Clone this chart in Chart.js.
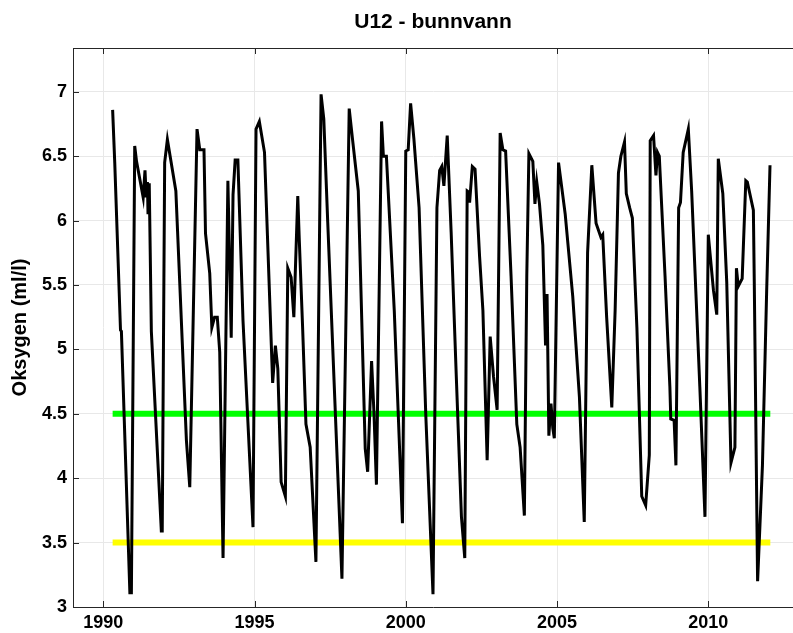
<!DOCTYPE html>
<html>
<head>
<meta charset="utf-8">
<script src="https://cdn.jsdelivr.net/npm/chart.js@4"></script>
<style>
  html, body { margin: 0; padding: 0; background: #fff; }
  #wrap { width: 793px; height: 633px; }
</style>
</head>
<body>
<div id="wrap"><canvas id="oxyChart" width="793" height="633"></canvas></div>
<script>
// measured series (year, ml/l)
const years = [
  1990.31, 1990.38, 1990.57, 1990.60, 1990.88, 1990.93, 1991.04, 1991.10, 1991.32, 1991.38,
  1991.42, 1991.46, 1991.48, 1991.52, 1991.59, 1991.92, 1991.95, 1992.03, 1992.12, 1992.40,
  1992.75, 1992.86, 1993.10, 1993.19, 1993.33, 1993.38, 1993.52, 1993.59, 1993.68, 1993.77,
  1993.85, 1993.96, 1994.12, 1994.23, 1994.29, 1994.36, 1994.45, 1994.62, 1994.95, 1995.05,
  1995.16, 1995.33, 1995.60, 1995.69, 1995.77, 1995.88, 1996.02, 1996.10, 1996.21, 1996.30,
  1996.43, 1996.48, 1996.59, 1996.70, 1996.84, 1997.03, 1997.20, 1997.29, 1997.42, 1997.89,
  1998.13, 1998.24, 1998.43, 1998.66, 1998.74, 1998.87, 1998.95, 1999.03, 1999.20, 1999.26,
  1999.36, 1999.62, 1999.89, 2000.00, 2000.08, 2000.16, 2000.27, 2000.44, 2000.66, 2000.90,
  2001.03, 2001.12, 2001.19, 2001.26, 2001.37, 2001.50, 2001.67, 2001.84, 2001.95, 2002.03,
  2002.09, 2002.11, 2002.20, 2002.29, 2002.44, 2002.55, 2002.69, 2002.79, 2002.90, 2003.02,
  2003.12, 2003.21, 2003.30, 2003.48, 2003.67, 2003.78, 2003.92, 2004.00, 2004.07, 2004.20,
  2004.27, 2004.33, 2004.42, 2004.53, 2004.62, 2004.67, 2004.73, 2004.80, 2004.86, 2004.91,
  2005.05, 2005.27, 2005.52, 2005.74, 2005.90, 2006.01, 2006.15, 2006.29, 2006.45, 2006.51,
  2006.64, 2006.81, 2006.92, 2007.03, 2007.11, 2007.23, 2007.29, 2007.40, 2007.49, 2007.64,
  2007.80, 2007.93, 2008.05, 2008.08, 2008.19, 2008.27, 2008.32, 2008.38, 2008.57, 2008.73,
  2008.76, 2008.87, 2008.93, 2009.02, 2009.08, 2009.17, 2009.34, 2009.45, 2009.72, 2009.89,
  2010.00, 2010.17, 2010.28, 2010.33, 2010.48, 2010.61, 2010.75, 2010.88, 2010.93, 2010.99,
  2011.12, 2011.24, 2011.29, 2011.49, 2011.52, 2011.63, 2011.79, 2011.93, 2012.04
];
const oxygen = [
  6.86, 6.45, 5.15, 5.14, 3.11, 3.11, 6.58, 6.46, 6.18, 6.39,
  6.18, 6.30, 6.05, 6.29, 5.14, 3.59, 3.59, 6.45, 6.63, 6.23,
  4.29, 3.93, 6.71, 6.55, 6.55, 5.90, 5.59, 5.17, 5.25, 5.25,
  4.98, 3.38, 6.31, 5.09, 6.20, 6.47, 6.47, 5.22, 3.62, 6.71,
  6.77, 6.53, 4.74, 5.03, 4.85, 3.97, 3.86, 5.63, 5.56, 5.25,
  6.19, 5.85, 5.17, 4.42, 4.24, 3.35, 6.98, 6.79, 5.99, 3.22,
  6.87, 6.63, 6.23, 4.23, 4.05, 4.91, 4.50, 3.95, 6.77, 6.50,
  6.50, 5.30, 3.65, 6.54, 6.55, 6.91, 6.63, 6.10, 4.50, 3.10,
  6.10, 6.39, 6.42, 6.27, 6.66, 5.91, 4.79, 3.70, 3.38, 6.23,
  6.22, 6.14, 6.42, 6.40, 5.72, 5.30, 4.14, 5.10, 4.79, 4.53,
  6.68, 6.55, 6.54, 5.57, 4.42, 4.24, 3.71, 5.57, 6.52, 6.46,
  6.13, 6.30, 6.13, 5.81, 5.03, 5.43, 4.33, 4.58, 4.39, 4.31,
  6.45, 6.05, 5.41, 4.63, 3.66, 5.75, 6.43, 5.98, 5.87, 5.89,
  5.25, 4.55, 5.30, 6.37, 6.50, 6.61, 6.21, 6.10, 6.02, 5.17,
  3.86, 3.79, 4.18, 6.62, 6.66, 6.35, 6.53, 6.50, 5.57, 4.71,
  4.46, 4.45, 4.10, 6.10, 6.14, 6.53, 6.71, 6.23, 4.71, 3.70,
  5.89, 5.46, 5.27, 6.48, 6.21, 5.52, 4.12, 4.24, 5.63, 5.49,
  5.55, 6.31, 6.30, 6.08, 5.52, 3.20, 4.10, 5.46, 6.43
];

// threshold lines
const limitYears = [1990.31, 2012.05];
const greenLimit = 4.5;
const yellowLimit = 3.5;

const xTicks = [1990, 1995, 2000, 2005, 2010];
const yTicks = [3, 3.5, 4, 4.5, 5, 5.5, 6, 6.5, 7];

const labelFont = { family: "'Liberation Sans', Arial, sans-serif", size: 18, weight: "bold" };

// title centred over plot area, plus top frame and inward ticks (matlab look)
const frameAndTitle = {
  id: "frameAndTitle",
  afterDraw(chart) {
    const ctx = chart.ctx;
    const a = chart.chartArea;
    const xs = chart.scales.x, ys = chart.scales.y;
    ctx.save();
    ctx.strokeStyle = "#262626";
    ctx.lineWidth = 1;
    ctx.beginPath();
    ctx.moveTo(a.left, a.top + 0.5);
    ctx.lineTo(a.right, a.top + 0.5);
    xTicks.forEach(function (v) {
      const px = Math.round(xs.getPixelForValue(v)) + 0.5;
      ctx.moveTo(px, a.bottom); ctx.lineTo(px, a.bottom - 6);
      ctx.moveTo(px, a.top); ctx.lineTo(px, a.top + 6);
    });
    yTicks.forEach(function (v) {
      const py = Math.round(ys.getPixelForValue(v)) + 0.5;
      ctx.moveTo(a.left, py); ctx.lineTo(a.left + 6, py);
    });
    ctx.stroke();
    ctx.fillStyle = "#000";
    ctx.font = "bold 21px 'Liberation Sans', Arial, sans-serif";
    ctx.textAlign = "center";
    ctx.textBaseline = "middle";
    ctx.fillText("U12 - bunnvann", (a.left + a.right) / 2, 22);
    ctx.restore();
  }
};

const ctx = document.getElementById("oxyChart").getContext("2d");
new Chart(ctx, {
  type: "line",
  data: {
    datasets: [
      {
        label: "Oksygen",
        data: years.map((y, i) => ({ x: y, y: oxygen[i] })),
        borderColor: "#000000",
        borderWidth: 3,
        pointRadius: 0,
        tension: 0,
        order: 0,
      },
      {
        label: "4.5",
        data: limitYears.map((y) => ({ x: y, y: greenLimit })),
        borderColor: "#00ff00",
        borderWidth: 6,
        pointRadius: 0,
        borderCapStyle: "butt",
        order: 1,
      },
      {
        label: "3.5",
        data: limitYears.map((y) => ({ x: y, y: yellowLimit })),
        borderColor: "#ffff00",
        borderWidth: 6,
        pointRadius: 0,
        borderCapStyle: "butt",
        order: 2,
      },
    ],
  },
  options: {
    responsive: false,
    animation: false,
    layout: { padding: { top: 48, right: 0, left: 0, bottom: 0 } },
    plugins: {
      legend: { display: false },
      title: { display: false },
      tooltip: { enabled: false },
    },
    scales: {
      x: {
        type: "linear",
        min: 1989.0,
        max: 2012.8,
        afterBuildTicks: (scale) => { scale.ticks = xTicks.map((v) => ({ value: v })); },
        afterFit: (scale) => { scale.height = 26; },
        ticks: {
          color: "#000",
          font: labelFont,
          padding: 5,
          maxRotation: 0,
          callback: (v) => String(v),
        },
        grid: { color: "#e8e8e8", drawTicks: false },
        border: { color: "#262626", width: 1 },
      },
      y: {
        min: 3,
        max: 7.34,
        afterBuildTicks: (scale) => { scale.ticks = yTicks.map((v) => ({ value: v })); },
        afterFit: (scale) => { scale.width = 73; },
        ticks: {
          color: "#000",
          font: labelFont,
          padding: 6,
          callback: (v) => String(v),
        },
        title: {
          display: true,
          text: "Oksygen (ml/l)",
          color: "#000",
          font: { family: "'Liberation Sans', Arial, sans-serif", size: 20, weight: "bold" },
          padding: { top: 8, bottom: 0 },
        },
        grid: { color: "#e8e8e8", drawTicks: false },
        border: { color: "#262626", width: 1 },
      },
    },
  },
  plugins: [frameAndTitle],
});
</script>
</body>
</html>
